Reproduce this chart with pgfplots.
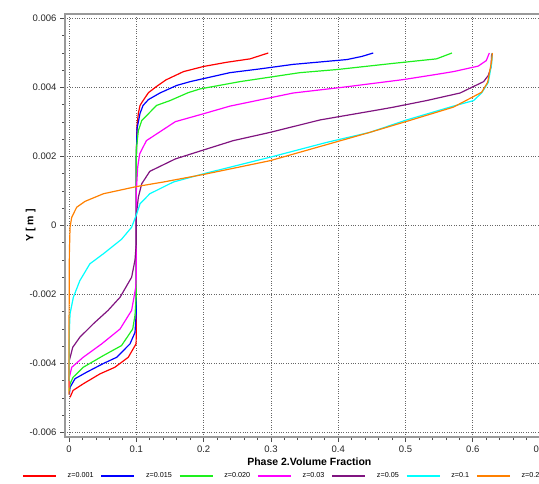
\documentclass[border=0pt]{standalone}
\usepackage{pgfplots}
\pgfplotsset{compat=1.18}
\usepackage{fontspec}
\setmainfont{Liberation Sans}
\definecolor{cred}{RGB}{255,0,0}
\definecolor{cblue}{RGB}{0,0,255}
\definecolor{cgreen}{RGB}{30,240,30}
\definecolor{cmag}{RGB}{255,0,255}
\definecolor{cpur}{RGB}{128,20,128}
\definecolor{ccyan}{RGB}{0,255,255}
\definecolor{corange}{RGB}{255,128,0}
\begin{document}
\begin{tikzpicture}[x=1pt,y=1pt]
\useasboundingbox (0,0) rectangle (539,483);
\begin{axis}[
  at={(65pt,46pt)}, anchor=south west,
  scale only axis, width=488.6pt, height=423pt,
  xmin=-0.006, xmax=0.72, ymin=-0.00613, ymax=0.00613,
  xtick={0,0.1,...,0.7}, ytick={-0.006,-0.004,...,0.006},
  minor x tick num=4, minor y tick num=3,
  scaled y ticks=false, scaled x ticks=false,
  yticklabel style={/pgf/number format/.cd, fixed, precision=3, zerofill=false},
  xticklabel style={/pgf/number format/.cd, fixed, precision=1},
  /pgf/number format/assume math mode=true,
  ticklabel style={font=\fontsize{9.5}{11}\selectfont, text=black!85},
  tick align=outside, tick pos=left,
  major tick length=5pt, minor tick length=3pt,
  tick style={black!70, line width=0.8pt},
  axis line style={black!40, line width=1.6pt},
  grid=major, major grid style={black!60, dotted, line width=0.7pt},
  xlabel={\bfseries Phase 2.Volume Fraction},
  ylabel={\bfseries Y [ m ]},
  label style={font=\fontsize{10.5}{12}\selectfont},
  xlabel style={yshift=1pt},
  ylabel style={yshift=-13pt},
  legend columns=7,
  legend style={at={(-0.088,-0.079)}, anchor=north west, draw=none, fill=none,
    font=\fontsize{7.2}{8}\selectfont, inner sep=0pt,
    /tikz/every odd column/.append style={column sep=9pt},
    /tikz/every even column/.append style={column sep=5pt}},
  legend image code/.code={\draw[#1, line width=1.5pt] (0pt,0pt) -- (33pt,0pt);},
  every axis plot/.append style={line width=1.2pt},
]
\addplot[draw=cred] coordinates {(0.296,0.0050) (0.269,0.00483) (0.234,0.00473) (0.200,0.00461) (0.170,0.00446) (0.144,0.00422) (0.130,0.00403) (0.118,0.00385) (0.110,0.00362) (0.1055,0.00348) (0.103,0.00325) (0.101,0.0029) (0.1,0.002) (0.1,0) (0.1,-0.002) (0.1,-0.003) (0.0996,-0.00343) (0.088,-0.00382) (0.068,-0.00411) (0.046,-0.0043) (0.021,-0.00459) (0.006,-0.00478) (0.0015,-0.00498)};
\addlegendentry{z=0.001}
\addplot[draw=cblue] coordinates {(0.452,0.0050) (0.435,0.0049) (0.413,0.00481) (0.333,0.00467) (0.284,0.00454) (0.239,0.00443) (0.180,0.00417) (0.160,0.00406) (0.135,0.00384) (0.118,0.00365) (0.110,0.00348) (0.1055,0.00325) (0.101,0.0028) (0.1,0.002) (0.1,0) (0.1,-0.0025) (0.098,-0.0031) (0.0906,-0.00343) (0.0708,-0.00382) (0.051,-0.0040) (0.0263,-0.00425) (0.0089,-0.00444) (0.0015,-0.00469) (0.0005,-0.0049)};
\addlegendentry{z=0.015}
\addplot[draw=cgreen] coordinates {(0.569,0.0050) (0.546,0.00483) (0.482,0.0047) (0.398,0.00452) (0.343,0.00443) (0.254,0.00417) (0.195,0.00396) (0.177,0.00385) (0.150,0.00362) (0.130,0.00348) (0.108,0.00304) (0.103,0.00275) (0.1,0.0022) (0.1,0) (0.1,-0.002) (0.098,-0.0026) (0.0946,-0.0030) (0.078,-0.00348) (0.051,-0.00377) (0.021,-0.00411) (0.006,-0.0044) (0.0015,-0.00459) (0.0005,-0.0048)};
\addlegendentry{z=0.020}
\addplot[draw=cmag] coordinates {(0.6245,0.0050) (0.620,0.00478) (0.608,0.00462) (0.571,0.00446) (0.546,0.00438) (0.497,0.00423) (0.408,0.00401) (0.333,0.00384) (0.239,0.00346) (0.200,0.00324) (0.158,0.00301) (0.115,0.00246) (0.105,0.00208) (0.102,0.00169) (0.1,0.001) (0.1,-0.0015) (0.099,-0.0018) (0.093,-0.00246) (0.0758,-0.0030) (0.0486,-0.00343) (0.021,-0.00382) (0.004,-0.00411) (0.0005,-0.0044) (0.0003,-0.0047)};
\addlegendentry{z=0.03}
\addplot[draw=cpur] coordinates {(0.628,0.00498) (0.627,0.00459) (0.623,0.00435) (0.616,0.00417) (0.581,0.00384) (0.531,0.00362) (0.482,0.00343) (0.462,0.00336) (0.373,0.00306) (0.299,0.0027) (0.244,0.00246) (0.200,0.00219) (0.158,0.00193) (0.120,0.00157) (0.108,0.00121) (0.103,0.00082) (0.1,0.0003) (0.1,-0.0005) (0.098,-0.001) (0.093,-0.0015) (0.0758,-0.00208) (0.058,-0.00246) (0.036,-0.00285) (0.016,-0.00324) (0.0055,-0.00353) (0.0005,-0.00391) (0.0003,-0.0045)};
\addlegendentry{z=0.05}
\addplot[draw=ccyan] coordinates {(0.629,0.0050) (0.628,0.0047) (0.623,0.00415) (0.613,0.00384) (0.601,0.00362) (0.571,0.00346) (0.500,0.00305) (0.447,0.0027) (0.383,0.00241) (0.299,0.00198) (0.200,0.0015) (0.155,0.00126) (0.120,0.00092) (0.1055,0.00063) (0.1006,0.00034) (0.093,-0.00005) (0.078,-0.0004) (0.051,-0.00082) (0.031,-0.00111) (0.016,-0.0016) (0.0064,-0.00208) (0.0015,-0.00256) (0.0005,-0.00304) (0.0003,-0.0045)};
\addlegendentry{z=0.1}
\addplot[draw=corange] coordinates {(0.629,0.0050) (0.628,0.00478) (0.622,0.00415) (0.613,0.00386) (0.571,0.00343) (0.502,0.00302) (0.447,0.0027) (0.299,0.00188) (0.200,0.00148) (0.140,0.00126) (0.1006,0.00113) (0.051,0.00092) (0.0238,0.0007) (0.0114,0.00053) (0.004,0.00024) (0.0015,-0.00005) (0.0005,-0.0008) (0.0,-0.003) (0.0,-0.0049)};
\addlegendentry{z=0.2}
\end{axis}
\end{tikzpicture}
\end{document}
